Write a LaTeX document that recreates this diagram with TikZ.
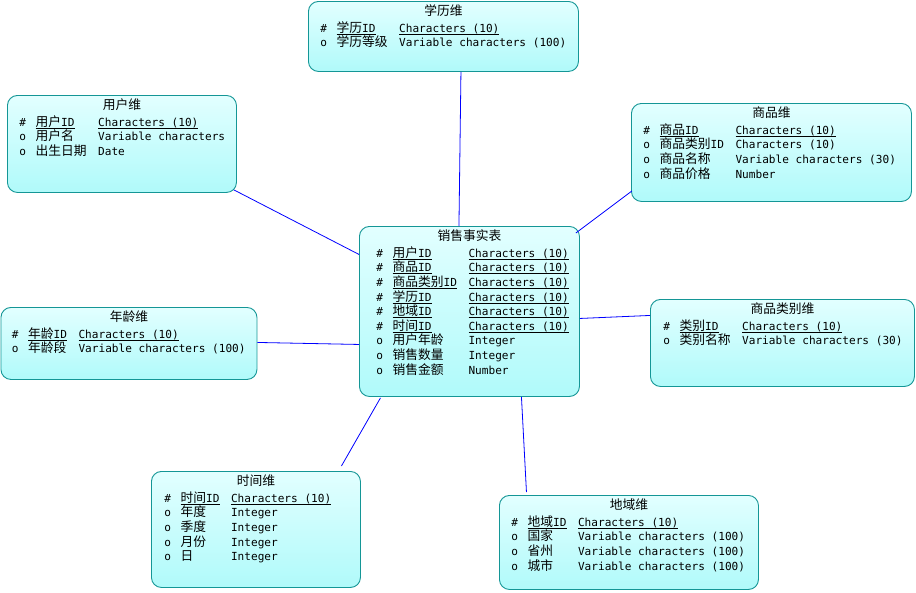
\documentclass[tikz,border=0pt]{standalone}
\usepackage{fontspec}
\setmainfont{DejaVu Sans Mono}
\setmonofont{DejaVu Sans Mono}
\newfontfamily\zhfont{Noto Sans CJK SC}[Scale=1.15]
\usepackage{tikz}
\usepackage{xcolor}
\usetikzlibrary{positioning}

\definecolor{enttop}{RGB}{226,255,255}
\definecolor{entbot}{RGB}{176,250,250}
\definecolor{entline}{RGB}{20,150,150}
\definecolor{linkblue}{RGB}{0,0,255}

\newcommand{\zh}[1]{{\zhfont\smash{#1}}}
\newcommand{\keyline}[1]{\setbox0\hbox{#1}\rlap{\rule[-2.2pt]{\wd0}{0.7pt}}\box0}
\newcommand{\pkrow}[2]{\#&\keyline{#1}&\keyline{#2}\\}
\newcommand{\atrow}[2]{o&#1&#2\\}
\newcommand{\entbody}[5][12pt]{%
  \begin{minipage}[t][#3][t]{#2}
  \centering\rule{0pt}{14.2pt}\zh{#4}\par\vspace{2pt}
  \raggedright\noindent\hspace*{#1}\begin{tabular}[t]{@{}l@{\hspace{9.5pt}}l@{\hspace{11.5pt}}l@{}}#5\end{tabular}
  \end{minipage}}

\begin{document}
\begin{tikzpicture}[
    x=1pt, y=-1pt,
    entity/.style={draw=entline, line width=0.9pt, rounded corners=10pt, top color=enttop, bottom color=entbot, inner sep=0pt, anchor=north west, font={\fontsize{11.1pt}{14.6pt}\selectfont}},
    link/.style={draw=linkblue, line width=0.8pt}
]
\useasboundingbox (0,0) rectangle (916,592);

% Fact table
\node[entity] (xiaoshou) at (359,226) {\entbody[17pt]{220pt}{170pt}{销售事实表}{%
  \pkrow{\zh{用户}ID}{Characters (10)}
  \pkrow{\zh{商品}ID}{Characters (10)}
  \pkrow{\zh{商品类别}ID}{Characters (10)}
  \pkrow{\zh{学历}ID}{Characters (10)}
  \pkrow{\zh{地域}ID}{Characters (10)}
  \pkrow{\zh{时间}ID}{Characters (10)}
  \atrow{\zh{用户年龄}}{Integer}
  \atrow{\zh{销售数量}}{Integer}
  \atrow{\zh{销售金额}}{Number}}};

% Dimension tables
\node[entity] (xueli) at (308,1) {\entbody{270pt}{70pt}{学历维}{%
  \pkrow{\zh{学历}ID}{Characters (10)}
  \atrow{\zh{学历等级}}{Variable characters (100)}}};
\node[entity] (yonghu) at (7,95) {\entbody{229pt}{97pt}{用户维}{%
  \pkrow{\zh{用户}ID}{Characters (10)}
  \atrow{\zh{用户名}}{Variable characters}
  \atrow{\zh{出生日期}}{Date}}};
\node[entity] (shangpin) at (631,103) {\entbody{280pt}{98pt}{商品维}{%
  \pkrow{\zh{商品}ID}{Characters (10)}
  \atrow{\zh{商品类别}ID}{Characters (10)}
  \atrow{\zh{商品名称}}{Variable characters (30)}
  \atrow{\zh{商品价格}}{Number}}};
\node[entity] (nianling) at (0.5,307) {\entbody[11pt]{256pt}{72pt}{年龄维}{%
  \pkrow{\zh{年龄}ID}{Characters (10)}
  \atrow{\zh{年龄段}}{Variable characters (100)}}};
\node[entity] (leibie) at (650,299) {\entbody[13pt]{264pt}{87pt}{商品类别维}{%
  \pkrow{\zh{类别}ID}{Characters (10)}
  \atrow{\zh{类别名称}}{Variable characters (30)}}};
\node[entity] (shijian) at (151,471) {\entbody[13pt]{209pt}{116pt}{时间维}{%
  \pkrow{\zh{时间}ID}{Characters (10)}
  \atrow{\zh{年度}}{Integer}
  \atrow{\zh{季度}}{Integer}
  \atrow{\zh{月份}}{Integer}
  \atrow{\zh{日}}{Integer}}};
\node[entity] (diyu) at (499,495) {\entbody{259pt}{94pt}{地域维}{%
  \pkrow{\zh{地域}ID}{Characters (10)}
  \atrow{\zh{国家}}{Variable characters (100)}
  \atrow{\zh{省州}}{Variable characters (100)}
  \atrow{\zh{城市}}{Variable characters (100)}}};

% Connections
\draw[link] ([xshift=17.5pt]xueli.south) -- ([xshift=-10.5pt]xiaoshou.north);
\draw[link] ([xshift=-3pt,yshift=3pt]yonghu.south east) -- ([yshift=57pt]xiaoshou.west);
\draw[link] ([xshift=1pt,yshift=11pt]shangpin.south west) -- ([xshift=-4pt,yshift=-7pt]xiaoshou.north east);
\draw[link] ([yshift=1pt]nianling.east) -- ([yshift=-33pt]xiaoshou.west);
\draw[link] ([yshift=27.5pt]leibie.west) -- ([yshift=-7pt]xiaoshou.east);
\draw[link] ([xshift=85.5pt,yshift=5pt]shijian.north) -- ([xshift=-89pt,yshift=-1pt]xiaoshou.south);
\draw[link] ([xshift=-102.5pt,yshift=3pt]diyu.north) -- ([xshift=52pt]xiaoshou.south);

\end{tikzpicture}
\end{document}
